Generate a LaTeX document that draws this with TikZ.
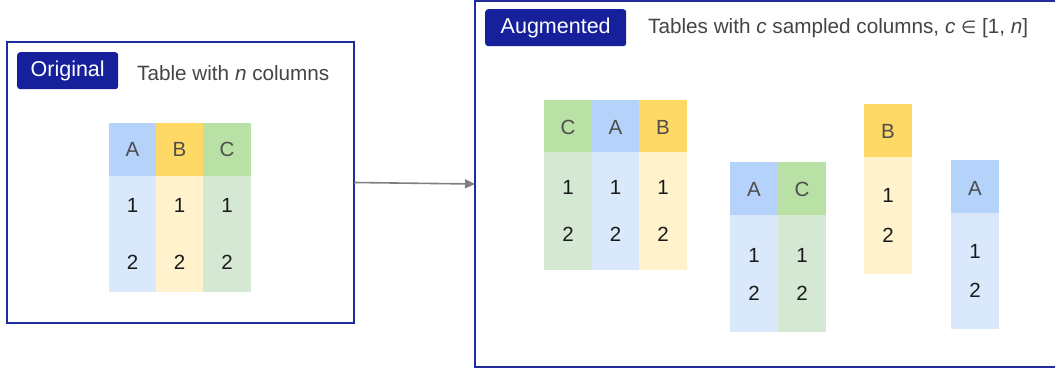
\documentclass[tikz,border=0pt]{standalone}
\usepackage{fontspec}
\setmainfont{Liberation Sans}
\newfontfamily\dejavu{DejaVu Sans}
\usetikzlibrary{arrows.meta}
\definecolor{frameblue}{HTML}{1F2C9E}
\definecolor{badgeblue}{HTML}{15209A}
\definecolor{hA}{HTML}{B5D2FA}
\definecolor{bA}{HTML}{DAE8FC}
\definecolor{hB}{HTML}{FFD966}
\definecolor{bB}{HTML}{FFF2CC}
\definecolor{hC}{HTML}{B9E0A5}
\definecolor{bC}{HTML}{D5E8D4}
\definecolor{hdrtext}{HTML}{4D4D4D}
\definecolor{celltext}{HTML}{1A1A1A}
\definecolor{desctext}{HTML}{444444}
\definecolor{arrowgray}{HTML}{808080}
\tikzset{
  frame/.style={draw=frameblue, line width=1.8pt},
  badge/.style={fill=badgeblue, rounded corners=3pt, text=white, inner sep=0pt,
    font=\fontsize{21.5}{24}\selectfont},
  desc/.style={text=desctext, anchor=west, inner sep=0pt, font=\fontsize{20.7}{24}\selectfont},
  cellbox/.style={inner sep=0pt, outer sep=0pt},
  hdr/.style={text=hdrtext, inner sep=0pt, font=\fontsize{20.5}{24}\selectfont},
  digit/.style={text=celltext, inner sep=0pt, font=\fontsize{20.5}{24}\selectfont},
}
% #1 name, #2 x left, #3 x right, #4 y top, #5 y header bottom, #6 y bottom,
% #7 letter, #8 letter y, #9 row y pair "r1/r2"
\newcommand{\tcol}[9]{%
  \fill[h#7] (#2,#4) rectangle (#3,#5);
  \fill[b#7] (#2,#5) rectangle (#3,#6);
  \node[hdr] (#1h) at ({(#2+#3)/2},#8) {#7};
  \foreach \ry [count=\ri] in {#9} {
    \node[digit] (#1r\ri) at ({(#2+#3)/2},\ry) {\ri};
  }
}
\begin{document}
\begin{tikzpicture}[x=1pt,y=-1pt]
\useasboundingbox (0,0) rectangle (1055,370);
\begin{scope}
\clip (0,0) rectangle (1055,370);
% frames
\node[frame, cellbox, minimum width=347pt, minimum height=281pt, anchor=north west] (orig) at (7,42) {};
\node[frame, cellbox, minimum width=590pt, minimum height=366pt, anchor=north west] (aug) at (475,1) {};
\end{scope}
% badges
\node[badge, minimum width=101pt, minimum height=37pt, anchor=north west] (origbadge) at (17,52) {Original};
\node[desc] (origdesc) at (137,73) {Table with \textit{n} columns};
\node[badge, minimum width=141pt, minimum height=37pt, anchor=north west] (augbadge) at (485,9) {Augmented};
\node[desc] (augdesc) at (648,28) {Tables with \textit{c} sampled columns, \textit{c} {\dejavu\fontsize{17.5}{20}\selectfont ∈} [1, \textit{n}]};
% original table
\tcol{oA}{109}{156}{123}{176}{292}{A}{149}{205,262}
\tcol{oB}{156}{203}{123}{176}{292}{B}{149}{205,262}
\tcol{oC}{203}{251}{123}{176}{292}{C}{149}{205,262}
% augmented table 1
\tcol{aC}{544}{592}{100}{152}{270}{C}{127}{187,234}
\tcol{aA}{592}{639}{100}{152}{270}{A}{127}{187,234}
\tcol{aB}{639}{687}{100}{152}{270}{B}{127}{187,234}
% augmented table 2
\tcol{bA}{730}{778}{162}{215}{332}{A}{189}{255,293}
\tcol{bC}{778}{826}{162}{215}{332}{C}{189}{255,293}
% augmented table 3
\tcol{cB}{864}{912}{104}{157}{274}{B}{131}{195,235}
% augmented table 4
\tcol{dA}{951}{999}{160}{213}{329}{A}{188}{251,290}
% arrow
\draw[arrowgray, line width=1.6pt, -{Triangle[length=10pt,width=9pt]}] (orig.east) -- (aug.west);
\end{tikzpicture}
\end{document}
